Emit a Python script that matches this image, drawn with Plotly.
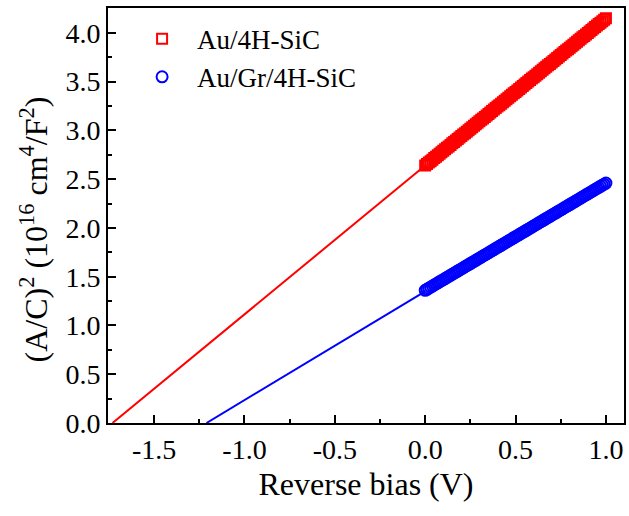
import plotly.graph_objects as go

# Measured data (Reverse bias V, (A/C)^2 in 1e16 cm^4/F^2)
bias = [0.00, 0.01, 0.02, 0.03, 0.04, 0.05, 0.06, 0.07, 0.08, 0.09,
        0.10, 0.11, 0.12, 0.13, 0.14, 0.15, 0.16, 0.17, 0.18, 0.19,
        0.20, 0.21, 0.22, 0.23, 0.24, 0.25, 0.26, 0.27, 0.28, 0.29,
        0.30, 0.31, 0.32, 0.33, 0.34, 0.35, 0.36, 0.37, 0.38, 0.39,
        0.40, 0.41, 0.42, 0.43, 0.44, 0.45, 0.46, 0.47, 0.48, 0.49,
        0.50, 0.51, 0.52, 0.53, 0.54, 0.55, 0.56, 0.57, 0.58, 0.59,
        0.60, 0.61, 0.62, 0.63, 0.64, 0.65, 0.66, 0.67, 0.68, 0.69,
        0.70, 0.71, 0.72, 0.73, 0.74, 0.75, 0.76, 0.77, 0.78, 0.79,
        0.80, 0.81, 0.82, 0.83, 0.84, 0.85, 0.86, 0.87, 0.88, 0.89,
        0.90, 0.91, 0.92, 0.93, 0.94, 0.95, 0.96, 0.97, 0.98, 0.99,
        1.00]
au_sic = [2.640, 2.655, 2.670, 2.685, 2.700, 2.716, 2.731, 2.746, 2.761, 2.776,
          2.791, 2.806, 2.821, 2.836, 2.851, 2.867, 2.882, 2.897, 2.912, 2.927,
          2.942, 2.957, 2.972, 2.987, 3.002, 3.018, 3.033, 3.048, 3.063, 3.078,
          3.093, 3.108, 3.123, 3.138, 3.153, 3.169, 3.184, 3.199, 3.214, 3.229,
          3.244, 3.259, 3.274, 3.289, 3.304, 3.320, 3.335, 3.350, 3.365, 3.380,
          3.395, 3.410, 3.425, 3.440, 3.455, 3.471, 3.486, 3.501, 3.516, 3.531,
          3.546, 3.561, 3.576, 3.591, 3.606, 3.622, 3.637, 3.652, 3.667, 3.682,
          3.697, 3.712, 3.727, 3.742, 3.757, 3.773, 3.788, 3.803, 3.818, 3.833,
          3.848, 3.863, 3.878, 3.893, 3.908, 3.924, 3.939, 3.954, 3.969, 3.984,
          3.999, 4.014, 4.029, 4.044, 4.059, 4.075, 4.090, 4.105, 4.120, 4.135,
          4.150]
au_gr_sic = [1.360, 1.371, 1.382, 1.393, 1.404, 1.415, 1.426, 1.437, 1.448, 1.459,
             1.470, 1.481, 1.492, 1.503, 1.514, 1.525, 1.536, 1.547, 1.558, 1.569,
             1.580, 1.591, 1.602, 1.613, 1.624, 1.635, 1.646, 1.657, 1.668, 1.679,
             1.690, 1.701, 1.712, 1.723, 1.734, 1.745, 1.756, 1.767, 1.778, 1.789,
             1.800, 1.811, 1.822, 1.833, 1.844, 1.855, 1.866, 1.877, 1.888, 1.899,
             1.910, 1.921, 1.932, 1.943, 1.954, 1.965, 1.976, 1.987, 1.998, 2.009,
             2.020, 2.031, 2.042, 2.053, 2.064, 2.075, 2.086, 2.097, 2.108, 2.119,
             2.130, 2.141, 2.152, 2.163, 2.174, 2.185, 2.196, 2.207, 2.218, 2.229,
             2.240, 2.251, 2.262, 2.273, 2.284, 2.295, 2.306, 2.317, 2.328, 2.339,
             2.350, 2.361, 2.372, 2.383, 2.394, 2.405, 2.416, 2.427, 2.438, 2.449,
             2.460]

# Linear extrapolation lines
fit_red_x = [-1.73, 0.0]
fit_red_y = [0.0, 2.64]
fit_blue_x = [-1.21, 0.0]
fit_blue_y = [0.0, 1.35]

x_tickvals = [-1.5, -1.0, -0.5, 0.0, 0.5, 1.0]
x_ticktext = ["-1.5", "-1.0", "-0.5", "0.0", "0.5", "1.0"]
y_tickvals = [0.0, 0.5, 1.0, 1.5, 2.0, 2.5, 3.0, 3.5, 4.0]
y_ticktext = ["0.0", "0.5", "1.0", "1.5", "2.0", "2.5", "3.0", "3.5", "4.0"]

FONT = "Liberation Serif, Times New Roman, serif"

fig = go.Figure()
fig.add_trace(go.Scatter(x=fit_red_x, y=fit_red_y, mode="lines",
                         line=dict(color="#ff0000", width=2), showlegend=False))
fig.add_trace(go.Scatter(x=fit_blue_x, y=fit_blue_y, mode="lines",
                         line=dict(color="#0000ff", width=2), showlegend=False))
fig.add_trace(go.Scatter(x=bias, y=au_sic, mode="markers", name="Au/4H-SiC",
                         marker=dict(symbol="square-open", size=10, color="#ff0000",
                                     line=dict(width=2, color="#ff0000"))))
fig.add_trace(go.Scatter(x=bias, y=au_gr_sic, mode="markers", name="Au/Gr/4H-SiC",
                         marker=dict(symbol="circle-open", size=11, color="#0000ff",
                                     line=dict(width=2, color="#0000ff"))))

fig.add_annotation(
    text="(A/C)<sup>2</sup> (10<sup>16</sup> cm<sup>4</sup>/F<sup>2</sup>)",
    xref="paper", yref="paper", x=-0.143, y=0.467,
    xanchor="center", yanchor="middle", textangle=-90, showarrow=False,
    font=dict(size=32, family=FONT, color="black"))

fig.update_layout(
    width=629, height=516,
    margin=dict(l=108, r=3, t=8, b=93),
    paper_bgcolor="white", plot_bgcolor="white",
    font=dict(family=FONT, color="black", size=28),
    legend=dict(x=0.037, y=0.984, xanchor="left", yanchor="top",
                bgcolor="rgba(0,0,0,0)", font=dict(size=27, family=FONT),
                itemwidth=60, tracegroupgap=0),
    xaxis=dict(range=[-1.755, 1.1], showgrid=False, zeroline=False,
               showline=True, linecolor="black", linewidth=2, mirror=True,
               ticks="inside", ticklen=8, tickwidth=2, tickcolor="black",
               tickvals=x_tickvals, ticktext=x_ticktext,
               tickfont=dict(size=28, family=FONT),
               minor=dict(ticks="inside", ticklen=4, tickwidth=2, tickcolor="black",
                          dtick=0.25, showgrid=False),
               title=dict(text="Reverse bias (V)", font=dict(size=32, family=FONT),
                          standoff=9)),
    yaxis=dict(range=[0, 4.255], showgrid=False, zeroline=False,
               showline=True, linecolor="black", linewidth=2, mirror=True,
               ticks="inside", ticklen=8, tickwidth=2, tickcolor="black",
               tickvals=y_tickvals, ticktext=y_ticktext,
               tickfont=dict(size=28, family=FONT),
               minor=dict(ticks="inside", ticklen=4, tickwidth=2, tickcolor="black",
                          dtick=0.25, showgrid=False)),
)

fig.write_html("out.html")
